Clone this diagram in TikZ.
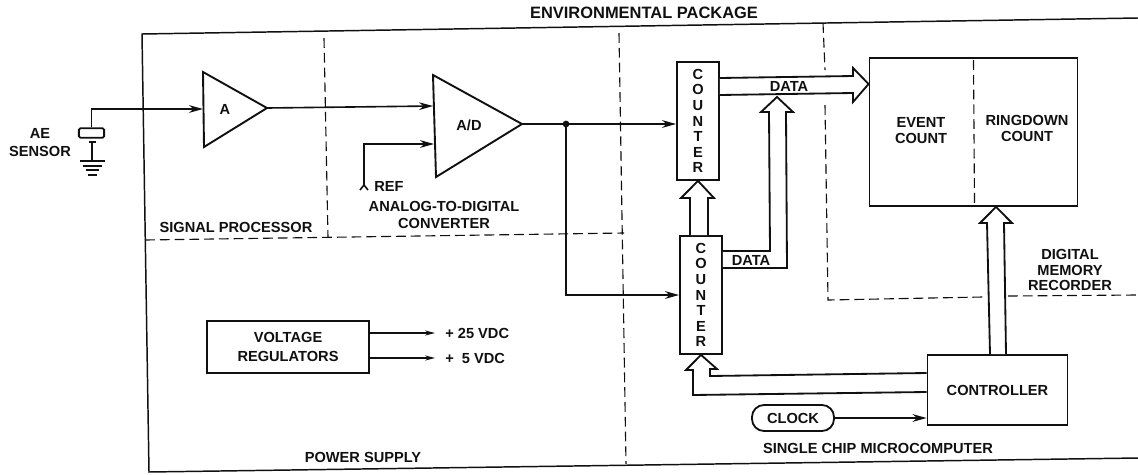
\documentclass[tikz,border=0pt]{standalone}
\usepackage{fontspec}
\setmainfont{Liberation Sans}
\usepackage{tikz}
\usepackage{xcolor}
\usetikzlibrary{positioning, arrows.meta, calc}
\definecolor{cInk}{HTML}{101010}
\tikzset{
  lbl/.style={font=\bfseries\fontsize{10.4}{10.8}\selectfont, text=cInk, inner sep=0pt, align=center},
  blockbox/.style={draw=cInk, line width=1.3pt, fill=white, inner sep=0pt, lbl},
  wire/.style={draw=cInk, line width=1.15pt},
  arrowwire/.style={wire, -{Stealth[length=10pt,width=5.5pt]}},
  thinarrow/.style={wire, line width=1pt, -{Stealth[length=7pt,width=3.6pt]}},
  busline/.style={draw=cInk, line width=1.3pt, line join=miter, fill=white},
  region/.style={draw=cInk, line width=.8pt, dash pattern=on 7pt off 3.5pt},
  frameline/.style={draw=cInk, line width=1.05pt},
}
\begin{document}
\begin{tikzpicture}[x=.25mm, y=-.25mm]
  \useasboundingbox (0,0) rectangle (1138,474);
  % package frame and region borders
  \node[lbl, font=\bfseries\fontsize{11.7}{13}\selectfont] (titlePkg) at (644,13) {ENVIRONMENTAL PACKAGE};
  \draw[frameline] (1138,18) -- (142,34) -- (149,472) -- (1138,458);
  \draw[region] (324,38) -- (328,238);
  \draw[region] (145,240) -- (624,233);
  \draw[region] (619,33) -- (626,464);
  \draw[region] (823,23) -- (825,70);
  \draw[region] (825,105) -- (828,300) -- (983,297);
  \draw[region] (1008,296) -- (1138,295);
  % sensor
  \node[blockbox, minimum width=6.3mm, minimum height=2.4mm, rounded corners=.4mm] (aeCell) at (91.5,133) {};
  \node[lbl] (aeLabel) at (40,142.5) {AE\\[2pt]SENSOR};
  \coordinate (gndTop) at (92,161);
  \draw[wire, line width=1.5pt] (89,142) -- (96,142);
  \draw[wire, line width=1.4pt] (92,142) -- (gndTop);
  \draw[wire, line width=1.3pt] (80,161) -- (105,161);
  \draw[wire, line width=1.3pt] (83,166) -- (102,166);
  \draw[wire, line width=1.3pt] (86,170) -- (99,170);
  \draw[wire, line width=1.3pt] (88,175) -- (97,175);
  % amplifier and converter
  \coordinate (ampTop) at (203,72);
  \coordinate (ampTip) at (267,108);
  \coordinate (ampBot) at (204,147);
  \draw[wire, line width=1.35pt, line join=miter] (ampTop) -- (ampTip) -- (ampBot) -- cycle;
  \node[lbl] (ampLabel) at (225,109) {A};
  \coordinate (adcTop) at (433,75);
  \coordinate (adcTip) at (522,124);
  \coordinate (adcBot) at (436,177);
  \draw[wire, line width=1.35pt, line join=miter] (adcTop) -- (adcTip) -- (adcBot) -- cycle;
  \node[lbl] (adcLabel) at (469,125) {A/D};
  \coordinate (ampIn) at (203,109);
  \coordinate (adcIn) at (433,106);
  \coordinate (adcRef) at (434,144);
  \coordinate (refEnd) at (364,185);
  \node[lbl, anchor=west] (refLabel) at (374,186) {REF};
  \node[lbl] (adcName) at (444,215) {ANALOG-TO-DIGITAL\\[1pt]CONVERTER};
  \node[lbl] (spName) at (236,227) {SIGNAL PROCESSOR};
  \draw[arrowwire] (aeCell.north) -- (aeCell.north |- ampIn) -- (ampIn);
  \draw[arrowwire] (ampTip) -- (adcIn);
  \draw[arrowwire] (refEnd) |- (adcRef);
  \draw[wire] (refEnd) -- ++(-4,5);
  \draw[wire] (refEnd) -- ++(4,5);
  % counters
  \node[blockbox, minimum width=10.5mm, minimum height=29.5mm, font=\bfseries\fontsize{10.4}{11.1}\selectfont] (cntA) at (698,121) {C\\O\\U\\N\\T\\E\\R};
  \node[blockbox, minimum width=10.5mm, minimum height=29.5mm, font=\bfseries\fontsize{10.4}{11.1}\selectfont] (cntB) at (701,295) {C\\O\\U\\N\\T\\E\\R};
  \coordinate (adcNode) at (566,124);
  \draw[wire] (adcTip) -- (adcNode);
  \fill[cInk] (adcNode) circle (2.4pt);
  \draw[arrowwire] (adcNode) -- (cntA.west |- adcNode);
  \draw[arrowwire] (adcNode) |- (cntB.west);
  % memory
  \node[blockbox, minimum width=52mm, minimum height=37mm] (memBox) at (973.5,132) {};
  \draw[region] (memBox.north) ++(0,3) -- ($(memBox.south)+(1,-3)$);
  \node[lbl] (evtLabel) at (921,130.5) {EVENT\\COUNT};
  \node[lbl] (rdLabel) at (1027,128.5) {RINGDOWN\\COUNT};
  \node[lbl] (dmrLabel) at (1070,270) {DIGITAL\\MEMORY\\RECORDER};
  % controller and clock
  \node[blockbox, minimum width=35mm, minimum height=17.5mm] (ctrlBox) at (997.5,390) {CONTROLLER};
  \node[blockbox, minimum width=20.5mm, minimum height=6.5mm, rounded corners=3mm] (clkBox) at (793,418) {CLOCK};
  \draw[arrowwire] (clkBox.east) -- (ctrlBox.west |- clkBox.east);
  \node[lbl] (scmName) at (878,448) {SINGLE CHIP MICROCOMPUTER};
  % data buses
  \draw[busline] (cntB.east |- 0,251) -- (770,251) -- (769,112) -- (761,112) -- (777,97) -- (793,112) -- (786,112) -- (787,268) -- (cntB.east |- 0,268);
  \draw[busline] (cntA.east |- 0,78) -- (853,76) -- (853,68) -- (memBox.west |- 0,84) -- (853,102) -- (853,93) -- (cntA.east |- 0,95);
  \node[lbl] (dataA) at (789,86) {DATA};
  \node[lbl] (dataB) at (751,260) {DATA};
  \draw[busline] (690,235) -- (690,198) -- (681,198) -- (cntA.south) -- (714,198) -- (708,198) -- (708,235);
  \draw[busline] (ctrlBox.west |- 0,373) -- (710,376) -- (710,369) -- (717,369) -- (cntB.south) -- (686,370) -- (693,370) -- (693,395) -- (ctrlBox.west |- 0,392);
  \draw[busline] (990,354) -- (987,223) -- (980,223) -- (memBox.south -| 996,0) -- (1012,223) -- (1004,223) -- (1006,354);
  % power supply
  \node[blockbox, minimum width=40.5mm, minimum height=13mm] (vregBox) at (288,347) {VOLTAGE\\[3pt]REGULATORS};
  \coordinate (vHigh) at (435,333);
  \coordinate (vLow) at (435,358);
  \draw[thinarrow] (vregBox.east |- vHigh) -- (vHigh);
  \draw[thinarrow] (vregBox.east |- vLow) -- (vLow);
  \node[lbl, anchor=west] (vHighLabel) at (445,333) {+ 25 VDC};
  \node[lbl, anchor=west] (vLowLabel) at (445,358) {+\ \ 5 VDC};
  \node[lbl] (psName) at (363,457) {POWER SUPPLY};
\end{tikzpicture}
\end{document}
